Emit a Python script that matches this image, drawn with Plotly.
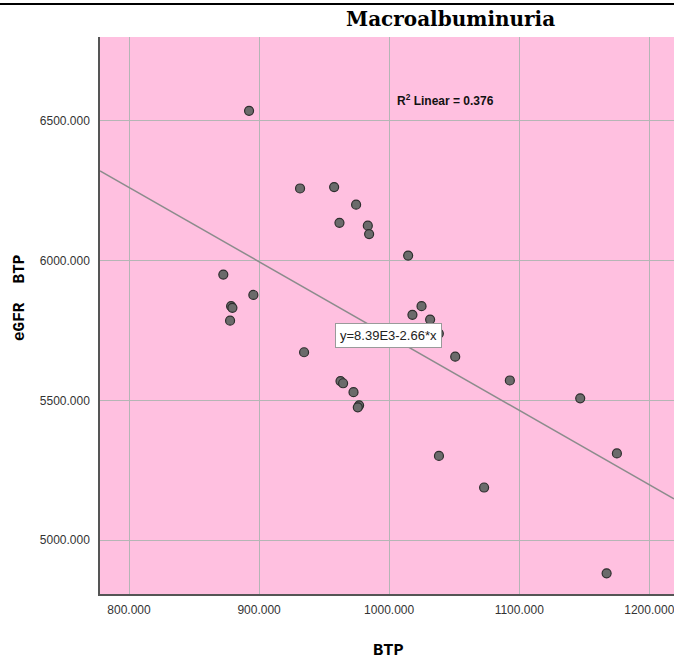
import plotly.graph_objects as go

btp = [892.3, 931.5, 957.7, 974.6, 961.8, 983.6, 984.6, 1014.6, 872.5, 895.6,
       878.5, 879.5, 877.7, 934.6, 962.6, 964.6, 972.6, 976.9, 975.9, 1024.9,
       1017.9, 1031.5, 1038.2, 1050.8, 1092.8, 1146.9, 1175.1, 1038.3, 1073.0, 1167.2]
egfr_btp = [6536, 6258, 6263, 6200, 6135, 6125, 6095, 6018, 5950, 5877,
            5837, 5831, 5785, 5672, 5569, 5561, 5529, 5482, 5475, 5837,
            5806, 5789, 5739, 5656, 5571, 5507, 5310, 5301, 5188, 4881]

fit_intercept = 8390.0
fit_slope = -2.66
r2_linear = 0.376

x_range = [777.7, 1219.0]
y_range = [4807.0, 6800.0]

title_text = "Macroalbuminuria"
x_title = "BTP"
y_title = "eGFR\u00a0\u00a0BTP"

line_x = x_range
line_y = [fit_intercept + fit_slope * v for v in line_x]

sans = "Liberation Sans, Arial, sans-serif"
mono = "Liberation Mono, Courier New, monospace"

W, H = 674, 664
ML, MR, MT, MB = 100, 0, 37, 70
PW, PH = W - ML - MR, H - MT - MB

fig = go.Figure()
fig.add_trace(go.Scatter(
    x=line_x, y=line_y, mode="lines",
    line=dict(color="#8c8c8c", width=1.5),
    hoverinfo="skip", showlegend=False,
))
fig.add_trace(go.Scatter(
    x=btp, y=egfr_btp, mode="markers",
    marker=dict(size=9, color="#6b6b6b", line=dict(color="#2e2e2e", width=1.2)),
    showlegend=False,
))

fig.add_annotation(
    x=999.6, y=5732, xref="x", yref="y",
    text="y=8.39E3-2.66*x", showarrow=False,
    font=dict(family=sans, size=13, color="#222"),
    bgcolor="white", bordercolor="#9a9a9a", borderwidth=1, borderpad=4,
)
fig.add_annotation(
    x=(395 - ML) / PW, y=(H - MB - 100) / PH, xref="paper", yref="paper",
    text="<b>R<sup>2</sup> Linear = %.3f</b>" % r2_linear, showarrow=False,
    xanchor="left", yanchor="middle",
    font=dict(family=sans, size=12, color="#111"),
)
fig.add_annotation(
    x=(450 - ML) / PW, y=(H - MB - 19) / PH, xref="paper", yref="paper",
    text="<b>" + title_text + "</b>", showarrow=False,
    xanchor="center", yanchor="middle",
    font=dict(family="DejaVu Serif", size=20, color="#000"),
)
fig.add_annotation(
    x=(388 - ML) / PW, y=(H - MB - 650) / PH, xref="paper", yref="paper",
    text="<b>" + x_title + "</b>", showarrow=False,
    xanchor="center", yanchor="middle",
    font=dict(family=mono, size=17, color="#000"),
)
fig.add_annotation(
    x=(20 - ML) / PW, y=(H - MB - 298) / PH, xref="paper", yref="paper",
    text="<b>" + y_title + "</b>", showarrow=False, textangle=-90,
    xanchor="center", yanchor="middle",
    font=dict(family=mono, size=16, color="#000"),
)

fig.update_layout(
    width=W, height=H,
    margin=dict(l=ML, r=MR, t=MT, b=MB, autoexpand=False),
    paper_bgcolor="white",
    plot_bgcolor="#FFC0E0",
    xaxis=dict(
        range=x_range, dtick=100, tick0=800, tickformat=".3f",
        showgrid=True, gridcolor="#b5b5b5", gridwidth=1,
        zeroline=False, showline=True, linecolor="#555", linewidth=1.5,
        ticks="", ticklabelstandoff=4, ticklabeloverflow="allow",
        automargin=False, tickfont=dict(family=sans, size=12, color="#333"),
    ),
    yaxis=dict(
        range=y_range, dtick=500, tick0=5000, tickformat=".3f",
        showgrid=True, gridcolor="#b5b5b5", gridwidth=1,
        zeroline=False, showline=True, linecolor="#555", linewidth=1.5,
        ticks="", ticklabelstandoff=6, ticklabeloverflow="allow",
        automargin=False, tickfont=dict(family=sans, size=12, color="#333"),
    ),
)

fig.add_shape(type="line", xref="paper", yref="paper",
              x0=-ML / PW, x1=1.0, y0=(H - MB - 4) / PH, y1=(H - MB - 4) / PH,
              line=dict(color="#000", width=2))

fig.write_html("out.html", config={"displayModeBar": False},
               post_script=["document.body.style.margin='0';"])
